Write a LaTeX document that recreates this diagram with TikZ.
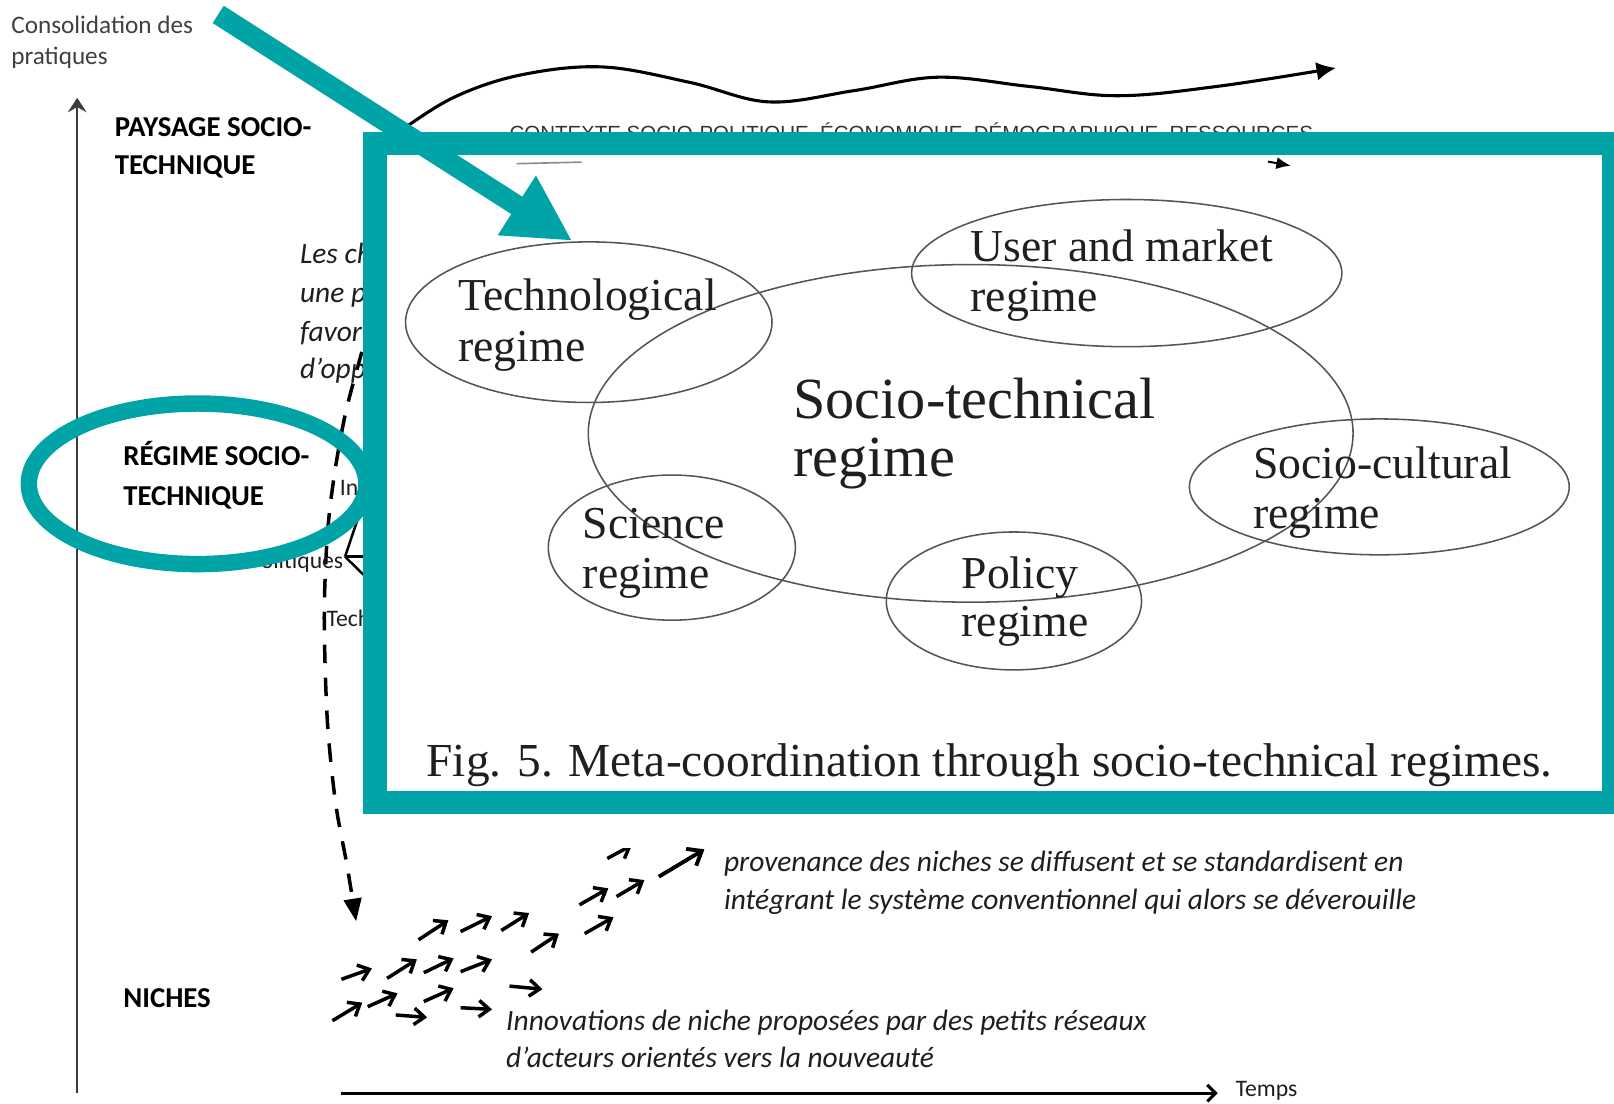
\documentclass[tikz,border=0pt]{standalone}
\usepackage{fontspec}
\setmainfont{Carlito}
\newfontfamily\serifface{Liberation Serif}
\newfontfamily\capsface{Liberation Sans}
\usetikzlibrary{arrows.meta,shapes.geometric}
\definecolor{tealmark}{RGB}{0,164,166}
\definecolor{inkgray}{RGB}{30,30,30}
\definecolor{axisgray}{RGB}{60,60,60}
\definecolor{ringgray}{RGB}{85,85,85}
\newcommand{\fsz}[1]{\fontsize{#1}{#1}\selectfont}
\begin{document}
\begin{tikzpicture}[x=0.5pt,y=-0.5pt,
  every node/.style={inner sep=0pt, outer sep=0pt},
  txt/.style={anchor=base west, text=inkgray},
  levellabel/.style={txt, font=\fsz{14}\bfseries, text=black},
  note/.style={txt, font=\fsz{14.3}\itshape},
  smalllabel/.style={txt, font=\fsz{11.5}},
  figlabel/.style={anchor=base west, font=\serifface\fsz{22.2}, text=black!88},
  regime/.style={ellipse, draw=ringgray, line width=0.75pt},
  nichearrow/.style={line width=1.7pt, -{Straight Barb[length=5pt,width=8pt]}},
]
\useasboundingbox (0,0) rectangle (1568,1072);
\clip (0,0) rectangle (1568,1072);

% ---- axes ----
\coordinate (ybot) at (75,1062);
\coordinate (ytop) at (75,95);
\draw[line width=1.2pt, axisgray, -{Stealth[length=7pt,width=9pt,inset=2.5pt]}] (ybot) -- (ytop);
\coordinate (xl) at (331,1062);
\coordinate (xr) at (1183,1062);
\draw[line width=1.5pt, -{Straight Barb[length=4pt,width=8pt]}] (xl) -- (xr);
\node[txt, font=\fsz{11.5}] (temps) at (1200.5,1065.5) {Temps};
\node[txt, font=\fsz{12.25}, text=black!75] (cons1) at (11,32.5) {Consolidation des};
\node[txt, font=\fsz{12.25}, text=black!75] (cons2) at (11,63) {pratiques};

% ---- level labels ----
\node[levellabel] (pay1) at (111.5,132.8) {PAYSAGE SOCIO-};
\node[levellabel] (pay2) at (111.5,170) {TECHNIQUE};
\node[levellabel] (reg1) at (119.8,451.8) {RÉGIME SOCIO-};
\node[levellabel] (reg2) at (119.8,490.6) {TECHNIQUE};
\node[levellabel] (nich) at (119.8,979) {NICHES};

% ---- landscape trend ----
\draw[line width=1.5pt, -{Latex[length=9.5pt,width=9pt]}]
  plot[smooth,tension=0.6] coordinates {(388,128) (440,95) (505,73) (585,65) (670,80) (747,99) (830,88) (911,75) (1000,84) (1085,93) (1182,84) (1298,66)};
\node[anchor=base west, font=\capsface\fsz{9.95}, text=black!80] (ctx) at (495,136.5)
  {CONTEXTE SOCIO-POLITIQUE, ÉCONOMIQUE, DÉMOGRAPHIQUE, RESSOURCES};

% ---- regime level remnants ----
\node[note] (les1) at (291.5,256) {Les ch};
\node[note] (les2) at (291.5,294) {une p};
\node[note] (les3) at (291.5,331.5) {favor};
\node[note] (les4) at (291.5,368) {d’opp};
\draw[line width=1.7pt, dash pattern=on 9pt off 7pt, -{Triangle[length=11pt,width=8.5pt]}]
  plot[smooth,tension=0.5] coordinates {(368,280) (352,340) (336,400) (325,460) (318,520) (315,600) (318,700) (326,780) (337,840) (346,895)};
\coordinate (hub) at (335.2,540.8);
\draw[line width=1.2pt] (hub) -- (350,497);
\draw[line width=1.2pt] (hub) -- (362,540.8);
\draw[line width=1.2pt] (hub) -- (362,567);
\node[smalllabel] (inlbl) at (330.3,481) {In};
\node[smalllabel, anchor=base east] (pollbl) at (333.5,552) {olitiques};
\node[smalllabel] (techlbl) at (317.4,608.8) {Tech};

% ---- niche arrows ----
\foreach \ax/\ay/\bx/\by in {
  599/871/626/855, 563/879/591/863, 568/907/596/891, 516/925/543/907,
  487/904/514/887, 447.5/905/478/890, 406.6/913/435.6/894,
  447.5/944/478/932, 411.7/945/440.7/931, 376/950.5/405/932, 331.7/951.4/361.3/940.8,
  411.7/973/440.7/960, 357.2/978/386.2/965, 323/991.6/352/974,
  384.4/986/415/988.4, 447.5/979/478/980.6, 495/958/527/961}
  \draw[nichearrow] (\ax,\ay) -- (\bx,\by);
\draw[line width=1.9pt, -{Straight Barb[length=6pt,width=9.5pt]}] (640,851.7) -- (684.4,825.1);
\begin{scope}
  \clip (580,824) rectangle (640,845);
  \draw[nichearrow] (590,834) -- (614,821);
\end{scope}
\node[note] (prov1) at (703.4,846.8) {provenance des niches se diffusent et se standardisent en};
\node[note] (prov2) at (703.4,883.5) {intégrant le système conventionnel qui alors se déverouille};
\node[note] (inno1) at (491.8,1000.7) {Innovations de niche proposées par des petits réseaux};
\node[note] (inno2) at (491.8,1037.3) {d’acteurs orientés vers la nouveauté};

% ---- highlight ring ----
\node[ellipse, draw=tealmark, line width=8pt, minimum width=164pt, minimum height=78pt] (focus) at (192,470) {};

% ---- inset frame ----
\node[draw=tealmark, fill=white, line width=11.5pt, minimum width=601.75pt, minimum height=320pt, anchor=north west] (frame) at (364,139.5) {};
\draw[black!45, line width=0.8pt] (502,159) -- (565,157.5);
\draw[line width=1pt, -{Latex[length=7pt,width=6pt]}] (1232,157) -- (1254,161);

% ---- inset: regimes ----
\node[regime, minimum width=371.5pt, minimum height=164pt] (stregime) at (943,421) {};
\node[regime, minimum width=178pt, minimum height=78pt] (techreg) at (572,313) {};
\node[regime, minimum width=209pt, minimum height=71.5pt] (userreg) at (1094.6,265.3) {};
\node[regime, minimum width=120pt, minimum height=70.5pt] (scireg) at (652.7,532) {};
\node[regime, minimum width=124pt, minimum height=67pt] (polreg) at (985,583.8) {};
\node[regime, minimum width=184.5pt, minimum height=66pt] (socreg) at (1340,473) {};

\node[figlabel] (t1) at (445.4,302) {Technological};
\node[figlabel] (t2) at (445.4,351.4) {regime};
\node[figlabel] (u1) at (943,254) {User and market};
\node[figlabel] (u2) at (943,302.8) {regime};
\node[figlabel, font=\serifface\fsz{28.3}] (s1) at (770.7,406.4) {Socio-technical};
\node[figlabel, font=\serifface\fsz{28.3}] (s2) at (770.7,463) {regime};
\node[figlabel] (sc1) at (566.2,523) {Science};
\node[figlabel] (sc2) at (566.2,571.6) {regime};
\node[figlabel] (p1) at (934.2,571.6) {Policy};
\node[figlabel] (p2) at (934.2,618.6) {regime};
\node[figlabel] (c1) at (1217.4,464.7) {Socio-cultural};
\node[figlabel] (c2) at (1217.4,513.3) {regime};
\node[figlabel, font=\serifface\fsz{23}] (caption) at (414.5,754.6) {Fig. 5. Meta-coordination through socio-technical regimes.};

% ---- pointer ----
\coordinate (tA) at (212,14);
\coordinate (tB) at (556,234);
\draw[draw=tealmark, line width=10pt, -{Triangle[length=32pt,width=32pt]}] (tA) -- (tB);
\end{tikzpicture}
\end{document}
